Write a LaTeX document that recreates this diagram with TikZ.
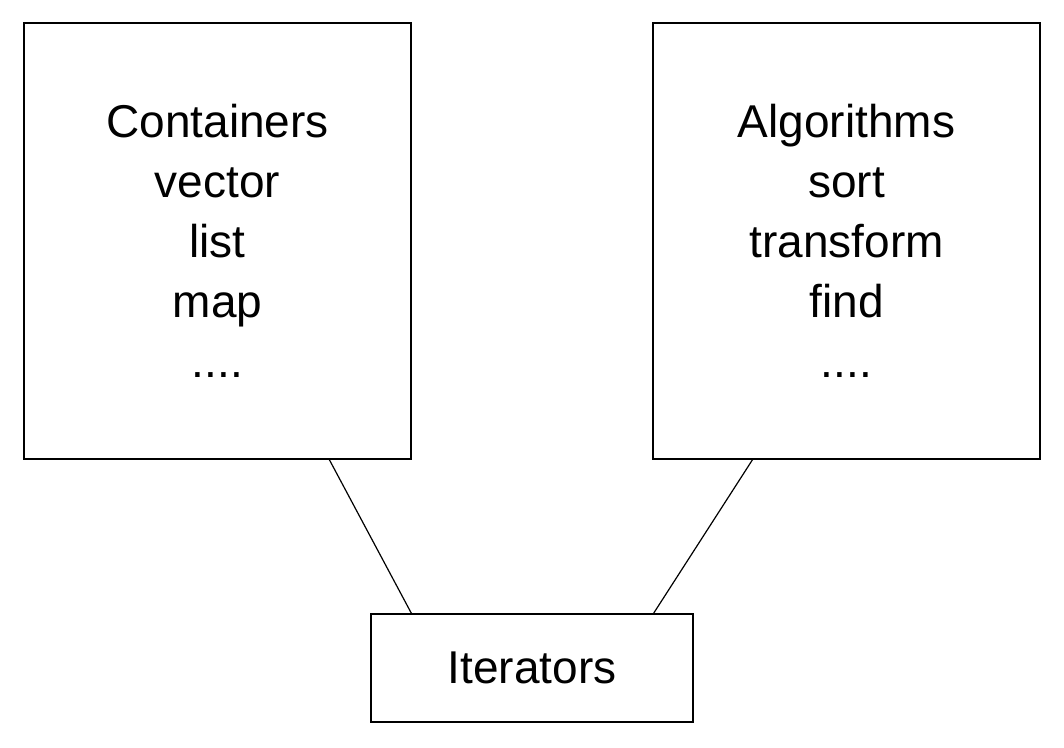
\documentclass[tikz,border=0pt]{standalone}
\usepackage{fontspec}
\setmainfont{Liberation Sans}
\usetikzlibrary{calc}
\begin{document}
\begin{tikzpicture}[x=1pt,y=-1pt,
  bigbox/.style={draw, line width=1.3pt, minimum width=387pt, minimum height=436pt,
    align=center, inner sep=0pt, font=\fontsize{46}{60}\selectfont},
  smallbox/.style={draw, line width=1.3pt, minimum width=322pt, minimum height=108pt,
    inner sep=0pt, font=\fontsize{46}{60}\selectfont},
  link/.style={line width=1.2pt}]
\useasboundingbox (0,0) rectangle (1064,747);
\node[bigbox] (C) at (217.5,241) {Containers\\vector\\list\\map\\....};
\node[bigbox] (A) at (846.5,241) {Algorithms\\sort\\transform\\find\\....};
\node[smallbox] (I) at (532,668) {Iterators};
\coordinate (c1) at ($(C.south west)!0.788!(C.south east)$);
\coordinate (i1) at ($(I.north west)!0.127!(I.north east)$);
\coordinate (a1) at ($(A.south west)!0.258!(A.south east)$);
\coordinate (i2) at ($(I.north west)!0.876!(I.north east)$);
\draw[link] (c1) -- (i1);
\draw[link] (a1) -- (i2);
\end{tikzpicture}
\end{document}
